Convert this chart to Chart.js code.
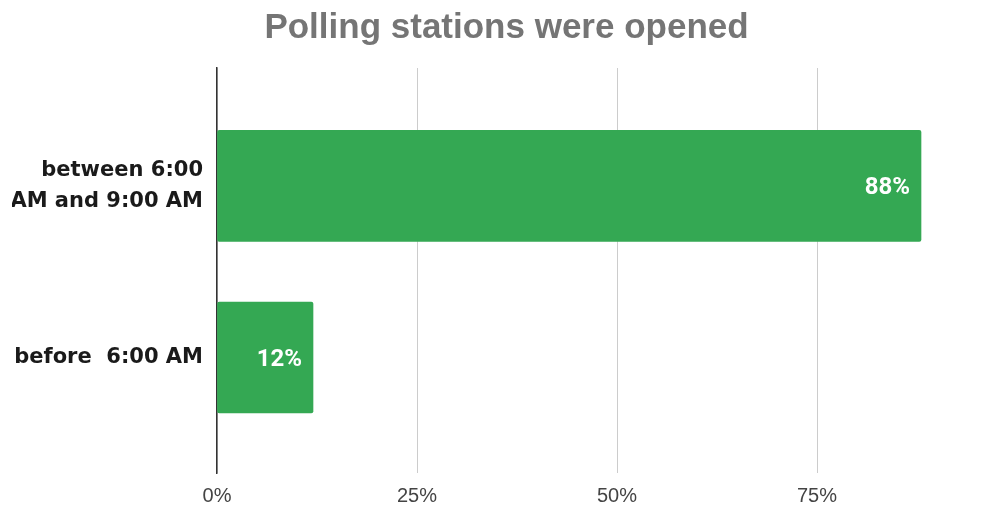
<!DOCTYPE html>
<html>
<head>
<meta charset="utf-8">
<title>Polling stations were opened</title>
<script src="https://cdn.jsdelivr.net/npm/chart.js@4/dist/chart.umd.min.js"></script>
<style>
  html, body { margin: 0; padding: 0; background: #fff; }
  #wrap { width: 1004px; height: 507px; }
</style>
</head>
<body>
<div id="wrap"><canvas id="myChart" width="1004" height="507"></canvas></div>
<script>
// categories, top to bottom (each entry = lines of the axis label)
const categorias = [
  ["between 6:00", "AM and 9:00 AM"],
  ["before  6:00 AM"],
];
const porcentajes = [88, 12];
const ticksX = [0, 25, 50, 75];

const verde = "#34a853";

// white value labels drawn inside the end of each bar
const etiquetasValor = {
  id: "etiquetasValor",
  afterDatasetsDraw(chart) {
    const ctx = chart.ctx;
    const meta = chart.getDatasetMeta(0);
    ctx.save();
    ctx.font = "bold 24px Roboto";
    ctx.fillStyle = "#ffffff";
    ctx.textAlign = "right";
    ctx.textBaseline = "middle";
    meta.data.forEach(function (bar, i) {
      ctx.fillText(porcentajes[i] + "%", bar.x - 11, bar.y + 2);
    });
    ctx.restore();
  },
};

const data = {
  datasets: [
    {
      label: "Polling stations",
      data: porcentajes.map(function (v, i) {
        return { x: v, y: i };
      }),
      backgroundColor: verde,
      borderWidth: 0,
      borderRadius: 2,
      borderSkipped: false,
      barThickness: 111,
    },
  ],
};

const config = {
  type: "bar",
  data,
  plugins: [etiquetasValor],
  options: {
    indexAxis: "y",
    responsive: false,
    animation: false,
    layout: { padding: { left: 12, right: 3, top: 0, bottom: 0 } },
    plugins: {
      legend: { display: false },
      tooltip: { enabled: false },
      title: {
        display: true,
        text: "Polling stations were opened",
        color: "#757575",
        font: { family: "Liberation Sans", size: 35, weight: "bold", lineHeight: 1.2 },
        padding: { top: 7, bottom: 19 },
      },
    },
    scales: {
      x: {
        type: "linear",
        min: 0,
        max: 98,
        afterBuildTicks: function (scale) {
          scale.ticks = ticksX.map(function (v) {
            return { value: v };
          });
        },
        afterFit: function (scale) {
          scale.height = 34;
          scale.paddingLeft = 0;
          scale.paddingRight = 0;
        },
        grid: { color: "#cccccc", lineWidth: 1, drawTicks: false },
        border: { display: false },
        ticks: {
          padding: 11,
          color: "#444444",
          font: { family: "Liberation Sans", size: 20 },
          callback: function (v) {
            return v + "%";
          },
        },
      },
      y: {
        type: "linear",
        offset: false,
        reverse: true,
        min: -0.687,
        max: 1.673,
        afterBuildTicks: function (scale) {
          scale.ticks = categorias.map(function (c, i) {
            return { value: i };
          });
        },
        afterFit: function (scale) {
          scale.width = 205;
          scale.paddingTop = 0;
          scale.paddingBottom = 0;
        },
        grid: { display: false, drawTicks: false, offset: false },
        border: { display: true, color: "#333333", width: 1.5 },
        ticks: {
          padding: 14,
          color: "#1a1a1a",
          font: { family: "DejaVu Sans", size: 21, weight: "bold", lineHeight: 1.5 },
          callback: function (v) {
            return categorias[v];
          },
        },
      },
    },
  },
};

const myChart = new Chart(document.getElementById("myChart"), config);
</script>
</body>
</html>
